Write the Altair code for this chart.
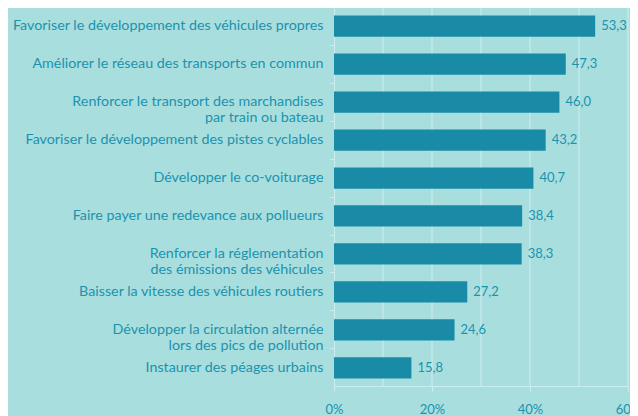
import altair as alt
import pandas as pd

categories = [
    "Favoriser le développement des véhicules propres",
    "Améliorer le réseau des transports en commun",
    "Renforcer le transport des marchandises|par train ou bateau",
    "Favoriser le développement des pistes cyclables",
    "Développer le co-voiturage",
    "Faire payer une redevance aux pollueurs",
    "Renforcer la réglementation|des émissions des véhicules",
    "Baisser la vitesse des véhicules routiers",
    "Développer la circulation alternée|lors des pics de pollution",
    "Instaurer des péages urbains",
]
values = [53.3, 47.3, 46.0, 43.2, 40.7, 38.4, 38.3, 27.2, 24.6, 15.8]
value_labels = ["53,3", "47,3", "46,0", "43,2", "40,7", "38,4", "38,3", "27,2", "24,6", "15,8"]
x_ticks = [0, 20, 40, 60]
grid_values = [10, 20, 30, 40, 50, 60]

BG = "#a9dedf"
BAR = "#1a8ba7"
TXT = "#1b93ad"
GRID = "#cdeeee"
FONT = "Lato"
PLOT_H = 378
PLOT_W = 294

df = pd.DataFrame({"cat": categories, "val": values, "lab": value_labels})
gdf = pd.DataFrame({"g": grid_values})

xscale = alt.Scale(domain=[0, 60], nice=False)
yscale = alt.Scale(paddingInner=0.44, paddingOuter=0.2)

x_axis = alt.Axis(
    values=x_ticks,
    labelExpr="datum.value + '%'",
    title=None,
    grid=False,
    domainColor=GRID,
    tickColor=GRID,
    tickSize=5,
    labelPadding=12,
    labelColor=TXT,
    labelFont=FONT,
    labelFontSize=13,
    labelFlush=False,
    labelOverlap=False,
)

y_axis = alt.Axis(
    title=None,
    labelExpr="split(datum.label, '|')",
    labelLineHeight=16,
    labelColor=TXT,
    labelFont=FONT,
    labelFontSize=14.3,
    labelPadding=6,
    labelLimit=400,
    tickSize=5,
    tickColor=GRID,
    domainColor=GRID,
    bandPosition=-0.39,
)

grid = alt.Chart(gdf).mark_rule(color=GRID, strokeWidth=1).encode(
    x=alt.X("g:Q", scale=xscale, axis=x_axis),
    y=alt.value(0),
    y2=alt.value(PLOT_H),
)

bars = alt.Chart(df).mark_bar(color=BAR).encode(
    x=alt.X("val:Q", scale=xscale, axis=x_axis),
    y=alt.Y("cat:N", sort=None, scale=yscale, axis=y_axis),
)

text = alt.Chart(df).mark_text(
    align="left", baseline="middle", dx=6, color=TXT, font=FONT, fontSize=13
).encode(
    x=alt.X("val:Q", scale=xscale, axis=x_axis),
    y=alt.Y("cat:N", sort=None, scale=yscale, axis=y_axis),
    text="lab:N",
)

chart = (
    alt.layer(grid, bars, text)
    .properties(
        width=PLOT_W,
        height=PLOT_H,
        background=BG,
        autosize=alt.AutoSizeParams(type="none"),
        padding={"left": 326, "top": 0, "right": 2, "bottom": 30},
    )
    .configure_view(stroke=None)
)

chart.save("out.html", embed_options={"renderer": "svg", "actions": False})
